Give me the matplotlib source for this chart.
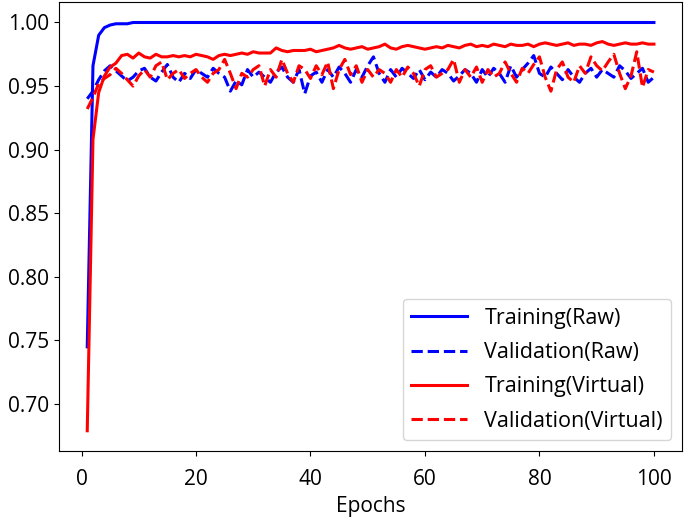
import matplotlib
matplotlib.use("Agg")
import matplotlib.pyplot as plt
import numpy as np

plt.rcParams['font.family'] = ['Open Sans', 'DejaVu Sans']

epochs = list(range(1, 101))

train_raw = [
    0.745, 0.966, 0.990, 0.996, 0.998, 0.999, 0.999, 0.999, 1.000, 1.000,
    1.000, 1.000, 1.000, 1.000, 1.000, 1.000, 1.000, 1.000, 1.000, 1.000,
    1.000, 1.000, 1.000, 1.000, 1.000, 1.000, 1.000, 1.000, 1.000, 1.000,
    1.000, 1.000, 1.000, 1.000, 1.000, 1.000, 1.000, 1.000, 1.000, 1.000,
    1.000, 1.000, 1.000, 1.000, 1.000, 1.000, 1.000, 1.000, 1.000, 1.000,
    1.000, 1.000, 1.000, 1.000, 1.000, 1.000, 1.000, 1.000, 1.000, 1.000,
    1.000, 1.000, 1.000, 1.000, 1.000, 1.000, 1.000, 1.000, 1.000, 1.000,
    1.000, 1.000, 1.000, 1.000, 1.000, 1.000, 1.000, 1.000, 1.000, 1.000,
    1.000, 1.000, 1.000, 1.000, 1.000, 1.000, 1.000, 1.000, 1.000, 1.000,
    1.000, 1.000, 1.000, 1.000, 1.000, 1.000, 1.000, 1.000, 1.000, 1.000,
]

val_raw = [
    0.940, 0.946, 0.955, 0.962, 0.966, 0.962, 0.958, 0.954, 0.957, 0.962,
    0.964, 0.957, 0.954, 0.961, 0.967, 0.957, 0.953, 0.960, 0.956, 0.963,
    0.960, 0.957, 0.964, 0.960, 0.957, 0.946, 0.954, 0.951, 0.963, 0.957,
    0.961, 0.957, 0.953, 0.961, 0.965, 0.957, 0.953, 0.963, 0.944, 0.958,
    0.961, 0.953, 0.963, 0.957, 0.965, 0.960, 0.953, 0.963, 0.957, 0.966,
    0.973, 0.960, 0.953, 0.963, 0.957, 0.964, 0.960, 0.956, 0.963, 0.955,
    0.961, 0.957, 0.963, 0.960, 0.954, 0.958, 0.963, 0.960, 0.953, 0.963,
    0.957, 0.964, 0.960, 0.953, 0.966, 0.957, 0.963, 0.968, 0.974, 0.960,
    0.957, 0.965, 0.960, 0.955, 0.963, 0.957, 0.953, 0.960, 0.964, 0.957,
    0.963, 0.960, 0.957, 0.966, 0.962, 0.956, 0.960, 0.964, 0.953, 0.957,
]

train_virtual = [
    0.679, 0.908, 0.945, 0.958, 0.965, 0.968, 0.974, 0.975, 0.972, 0.976,
    0.973, 0.972, 0.975, 0.973, 0.973, 0.974, 0.973, 0.974, 0.973, 0.975,
    0.974, 0.973, 0.971, 0.974, 0.975, 0.974, 0.975, 0.976, 0.975, 0.977,
    0.976, 0.976, 0.976, 0.980, 0.978, 0.977, 0.978, 0.978, 0.978, 0.979,
    0.977, 0.978, 0.979, 0.980, 0.982, 0.980, 0.979, 0.980, 0.981, 0.979,
    0.980, 0.981, 0.983, 0.980, 0.979, 0.981, 0.982, 0.981, 0.980, 0.979,
    0.980, 0.981, 0.980, 0.982, 0.981, 0.980, 0.982, 0.983, 0.981, 0.982,
    0.981, 0.983, 0.982, 0.981, 0.983, 0.982, 0.982, 0.983, 0.981, 0.983,
    0.984, 0.983, 0.982, 0.983, 0.984, 0.982, 0.983, 0.983, 0.982, 0.984,
    0.985, 0.983, 0.982, 0.983, 0.984, 0.983, 0.983, 0.984, 0.983, 0.983,
]

val_virtual = [
    0.932, 0.941, 0.952, 0.956, 0.959, 0.964, 0.960, 0.955, 0.950, 0.958,
    0.963, 0.957, 0.966, 0.969, 0.955, 0.960, 0.963, 0.956, 0.960, 0.963,
    0.957, 0.953, 0.960, 0.963, 0.971, 0.960, 0.948, 0.960, 0.957, 0.963,
    0.966, 0.950, 0.963, 0.957, 0.971, 0.960, 0.953, 0.966, 0.963, 0.956,
    0.966, 0.959, 0.969, 0.948, 0.963, 0.971, 0.959, 0.966, 0.953, 0.963,
    0.957, 0.963, 0.960, 0.953, 0.963, 0.957, 0.965, 0.960, 0.950, 0.963,
    0.966, 0.957, 0.960, 0.963, 0.971, 0.953, 0.963, 0.957, 0.965, 0.953,
    0.963, 0.957, 0.960, 0.969, 0.960, 0.953, 0.964, 0.960, 0.967, 0.973,
    0.957, 0.946, 0.963, 0.969, 0.957, 0.953, 0.966, 0.960, 0.973, 0.966,
    0.962, 0.969, 0.975, 0.960, 0.948, 0.958, 0.977, 0.949, 0.963, 0.961,
]

fig = plt.figure(figsize=(6.85, 5.21), dpi=100)
ax = fig.add_axes([0.086, 0.134, 0.910, 0.862])

ax.plot(epochs, train_raw, color='blue', lw=2.2, label='Training(Raw)')
ax.plot(epochs, val_raw, color='blue', lw=2.2, linestyle='--', label='Validation(Raw)')
ax.plot(epochs, train_virtual, color='red', lw=2.2, label='Training(Virtual)')
ax.plot(epochs, val_virtual, color='red', lw=2.2, linestyle='--', label='Validation(Virtual)')

ax.set_xticks([0, 20, 40, 60, 80, 100])
ax.set_yticks([0.70, 0.75, 0.80, 0.85, 0.90, 0.95, 1.00])
ax.yaxis.set_major_formatter(matplotlib.ticker.FormatStrFormatter('%.2f'))
ax.tick_params(labelsize=15)
ax.tick_params(axis='x', pad=9)
ax.set_xlabel('Epochs', fontsize=15, labelpad=5)

ax.legend(loc='lower right', fontsize=15.5, handlelength=2.6, labelspacing=0.62)

fig.savefig('out.png', dpi=100)
